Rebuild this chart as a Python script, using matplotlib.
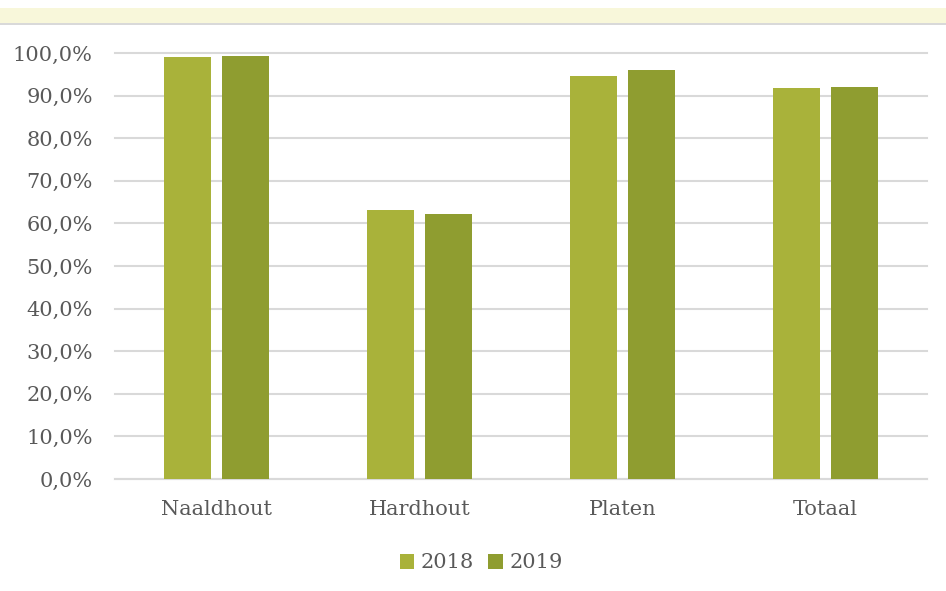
import matplotlib
matplotlib.use("Agg")
import matplotlib.pyplot as plt
import numpy as np
from matplotlib.patches import Rectangle
from matplotlib.ticker import FuncFormatter

categories = ["Naaldhout", "Hardhout", "Platen", "Totaal"]
series_names = ["2018", "2019"]
values_2018 = [99.1, 63.1, 94.5, 91.8]
values_2019 = [99.3, 62.3, 95.9, 92.0]
yticks = [0, 10, 20, 30, 40, 50, 60, 70, 80, 90, 100]

colors = ["#A9B23A", "#8F9D30"]
text_color = "#595959"
grid_color = "#D9D9D9"

plt.rcParams['font.family'] = ['DejaVu Serif']

fig = plt.figure(figsize=(9.46, 5.91), dpi=100)
W, H = 946, 591

# Top band
fig.patches.append(Rectangle((0, 1 - 23 / H), 1, 15 / H, transform=fig.transFigure,
                             facecolor="#F8F7DA", edgecolor="none", zorder=0))
fig.patches.append(Rectangle((0, 1 - 24.5 / H), 1, 1.5 / H, transform=fig.transFigure,
                             facecolor="#D9D9D9", edgecolor="none", zorder=0))

left, right = 115 / W, 927 / W
bottom, top = 1 - 479 / H, 1 - 53 / H
ax = fig.add_axes([left, bottom, right - left, top - bottom])

x = np.arange(len(categories))
bw = 0.227
gap = 0.059
off = (bw + gap) / 2
ax.bar(x - off, values_2018, bw, color=colors[0], label=series_names[0], zorder=3)
ax.bar(x + off, values_2019, bw, color=colors[1], label=series_names[1], zorder=3)

ax.set_xlim(-0.5, len(categories) - 0.5)
ax.set_ylim(0, 100)
ax.set_yticks(yticks)
ax.yaxis.set_major_formatter(FuncFormatter(lambda v, p: f"{v:.1f}%".replace(".", ",")))
ax.set_xticks(x)
ax.set_xticklabels(categories)
ax.grid(axis="y", color=grid_color, linewidth=1.5, zorder=0)
for gl in ax.get_ygridlines():
    gl.set_clip_on(False)
ax.set_axisbelow(True)
for s in ["top", "right", "left"]:
    ax.spines[s].set_visible(False)
ax.spines["bottom"].set_color(grid_color)
ax.spines["bottom"].set_linewidth(1.5)
ax.tick_params(axis="both", length=0, labelsize=15, colors=text_color)
ax.tick_params(axis="x", pad=15)
ax.tick_params(axis="y", pad=16)

leg = fig.legend(loc="center", bbox_to_anchor=(481 / W, 1 - 563 / H), ncol=2, frameon=False,
                 fontsize=15, handlelength=0.7, handleheight=0.7, handletextpad=0.3,
                 columnspacing=0.7, labelcolor=text_color)

fig.savefig("out.png", dpi=100)
